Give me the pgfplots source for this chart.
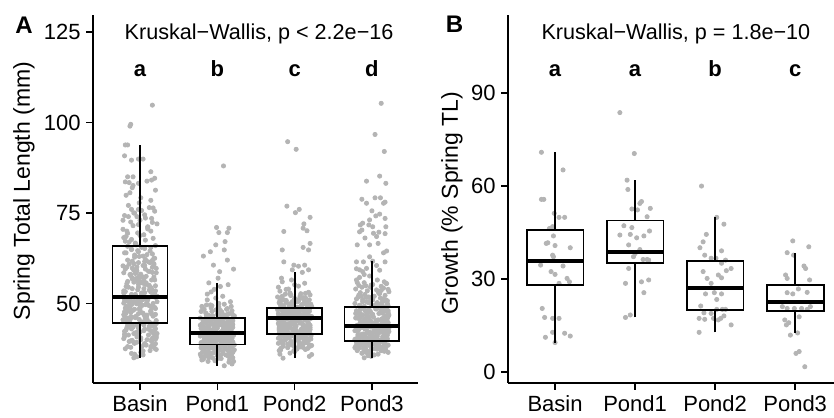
\documentclass[border=0pt]{standalone}
\usepackage{fontspec}
\setmainfont{Liberation Sans}
\usepackage{pgfplots}
\pgfplotsset{compat=1.18}
\definecolor{ptc}{RGB}{180,180,180}
\pgfplotsset{
  panel/.style={
    scale only axis, anchor=south west, height=184pt,
    axis x line*=bottom, axis y line*=left,
    axis line style={-, line width=0.8pt, black},
    tick style={black, line width=0.8pt},
    major tick length=3.5pt, tick align=outside,
    xtick={1,2,3,4}, xticklabels={Basin,Pond1,Pond2,Pond3},
    tick label style={font=\fontsize{11}{13}\selectfont, black},
    yticklabel style={inner xsep=2.5pt},
    xticklabel style={inner ysep=2.5pt, text height=8pt, text depth=0pt},
    /pgf/number format/assume math mode=true,
    clip=false, clip mode=individual,
  },
  myPts/.style={only marks, mark=*, mark size=1.05pt, color=ptc, mark options={solid, draw=ptc, fill=ptc}},
  myBox/.style={draw=black, line width=0.9pt, solid, mark=none, line join=miter},
  myMed/.style={draw=black, line width=2pt, solid, mark=none},
}
\begin{document}
\begin{tikzpicture}
\useasboundingbox (0pt,0pt) rectangle (417pt,208.5pt);
% ---------------- Panel A ----------------
\begin{axis}[panel, at={(46.5pt,17pt)}, width=162.5pt,
  xmin=0.392, xmax=4.596, ymin=28.04, ymax=129.7,
  ytick={50,75,100,125}]
% Basin
\addplot[myPts] coordinates {
(0.92,35.0) (0.96,35.3) (1.04,35.8) (0.89,36.2) (1.01,36.5) (1.04,36.9) (1.21,37.3) (1.19,37.6) (0.88,37.9) (1.15,38.3)
(1.05,38.6) (1.06,38.9) (0.92,39.2) (1.15,39.5) (0.90,39.8) (1.20,40.1) (0.79,40.3) (1.17,40.6) (0.96,40.8) (1.21,41.0)
(0.85,41.3) (1.19,41.5) (1.22,41.7) (0.94,41.9) (1.00,42.1) (0.80,42.3) (1.14,42.5) (0.82,42.7) (1.11,42.9) (1.20,43.0)
(0.98,43.2) (1.19,43.4) (0.91,43.5) (1.12,43.7) (0.85,43.8) (0.96,44.0) (1.05,44.1) (1.16,44.2) (0.87,44.3) (1.17,44.4)
(1.21,44.5) (1.05,44.6) (1.13,44.7) (0.93,36.0) (1.14,38.0) (1.01,40.0) (0.96,42.0)
(0.83,44.8) (1.09,45.0) (1.08,45.1) (1.21,45.3) (0.87,45.4) (0.99,45.6) (0.81,45.7) (1.07,45.9) (0.84,46.0) (0.90,46.2)
(0.88,46.3) (0.80,46.5) (1.06,46.6) (1.09,46.8) (1.19,46.9) (1.15,47.1) (0.98,47.2) (0.82,47.4) (1.02,47.5) (0.80,47.7)
(1.14,47.8) (0.88,48.0) (0.85,48.1) (0.89,48.3) (0.93,48.4) (1.20,48.6) (0.81,48.7) (0.83,48.9) (1.15,49.0) (1.14,49.2)
(0.83,49.3) (1.11,49.5) (1.00,49.6) (0.90,49.8) (0.96,49.9) (0.79,50.1) (1.09,50.2) (0.86,50.4) (0.95,50.5) (1.01,50.7)
(0.83,50.8) (0.80,51.0) (1.04,51.1) (1.06,51.3) (0.98,51.4) (0.88,51.6) (1.20,51.7)
(1.17,52.0) (1.02,52.3) (1.19,52.6) (0.79,52.9) (1.14,53.2) (1.20,53.5) (0.97,53.8) (0.90,54.1) (1.14,54.4) (0.82,54.7)
(1.11,55.0) (1.07,55.3) (1.04,55.6) (0.92,55.9) (0.97,56.2) (1.05,56.5) (0.90,56.8) (0.99,57.1) (1.03,57.4) (0.99,57.7)
(0.88,58.0) (0.94,58.3) (1.16,58.6) (1.12,58.9) (0.92,59.2) (1.07,59.5) (0.90,59.8) (0.83,60.1) (0.78,60.4) (1.18,60.7)
(1.18,61.0) (0.98,61.3) (1.06,61.6) (1.16,61.9) (1.07,62.2) (1.19,62.5) (0.93,62.8) (1.04,63.1) (0.93,63.4) (1.16,63.7)
(0.82,64.0) (0.98,64.3) (0.97,64.6) (0.89,64.9) (1.06,65.2) (1.14,65.5) (0.84,65.8)
(0.95,66.2) (0.94,66.7) (0.81,67.2) (0.89,67.7) (0.79,68.2) (1.00,68.8) (0.84,69.4) (0.83,70.0) (1.10,70.6)
(1.10,71.2) (0.98,71.8) (1.16,72.4) (0.78,73.0) (1.07,73.6) (0.80,74.3) (0.92,75.0) (1.02,75.7) (1.17,76.4) (0.85,77.1)
(0.99,77.8) (1.14,78.5) (1.01,79.2) (0.82,79.9) (0.87,80.6) (1.20,81.3) (0.90,82.0) (0.91,82.6) (0.89,76.0) (0.96,74.0)
(1.16,104.8) (0.88,99.5) (0.87,99.0) (0.81,93.8) (0.84,93.8) (0.80,90.8) (0.89,89.6) (0.98,89.9) (1.04,89.9) (1.14,86.4)
(0.84,85.0) (0.91,85.0) (1.19,84.6) (0.81,83.6) (0.86,83.4) (0.98,83.2) (1.09,83.8) (1.15,84.1)
(1.13,37.0) (0.81,37.5) (1.02,38.0) (1.18,38.5) (0.93,39.0) (0.86,39.5) (1.09,40.0) (1.21,40.5) (0.97,41.0) (0.80,41.5)
(1.16,42.0) (1.05,42.5) (0.89,43.0) (1.19,43.5) (0.84,44.0) (1.00,44.5) (1.11,45.0) (0.78,45.5) (1.07,46.0) (0.95,46.5)
(1.20,47.0) (0.88,47.5) (1.14,48.0) (0.99,48.5) (0.82,49.0) (1.03,49.5) (1.17,50.0) (0.91,50.5) (1.10,51.0) (0.85,51.5)
(1.22,52.0) (0.94,52.5) (1.06,53.0) (0.79,53.5) (1.15,54.0) (0.98,54.5) (1.12,55.0) (0.83,55.5) (1.01,56.0) (1.19,56.5)
(0.90,57.0) (1.08,57.5) (0.87,58.0) (1.21,58.5) (0.96,59.0) (0.81,59.5) (1.16,60.0) (1.04,60.5) (0.92,61.0) (1.11,61.5)
(0.84,62.0) (1.18,62.5) (0.99,63.0) (1.09,63.5) (0.80,64.0) (1.13,64.5) (0.89,65.0) (1.02,65.5) (1.20,66.0) (0.94,66.5)
(0.86,67.0) (1.07,67.5) (1.17,68.0) (0.82,68.5) (1.05,69.0) (0.97,69.5) (1.14,70.0) (0.78,70.5) (1.10,71.0) (0.91,71.5)
(1.22,72.0) (0.88,72.5) (1.00,73.0) (1.15,73.5) (0.85,74.0) (1.06,74.5) (0.93,75.0) (1.19,75.5) (0.98,76.0) (1.12,76.5)
(0.84,38.1) (1.08,38.5) (1.20,38.9) (0.96,39.3) (0.88,39.7) (1.15,40.1) (1.01,40.5) (0.80,40.9) (1.11,41.3) (0.92,41.7)
(1.18,42.1) (0.99,42.5) (1.06,42.9) (0.83,43.3) (1.13,43.7) (0.90,44.1) (1.21,44.5) (1.03,44.9) (0.86,45.3) (1.09,45.7)
(0.94,46.1) (1.17,46.5) (0.79,46.9) (1.04,47.3) (1.14,47.7) (0.91,48.1) (1.00,48.5) (1.19,48.9) (0.87,49.3) (1.07,49.7)
(0.97,50.1) (1.22,50.5) (0.82,50.9) (1.10,51.3) (0.93,51.7) (1.16,52.1) (0.89,52.5) (1.02,52.9) (0.81,53.3) (1.12,53.7)
(1.05,54.1) (0.85,54.5) (1.20,54.9) (0.98,55.3) (1.08,55.7) (0.84,56.1) (1.15,56.5) (0.95,56.9) (1.18,57.3) (0.88,57.7)
(1.01,58.1) (0.79,58.5) (1.11,58.9) (0.92,59.3) (1.21,59.7) (0.96,60.1) (1.06,60.5) (0.86,60.9) (1.13,61.3) (0.90,61.7)
};
% Pond1
\addplot[myPts] coordinates {
(2.09,32.8) (2.19,33.3) (2.15,33.8) (1.98,34.2) (1.82,34.6) (2.02,34.9) (1.80,35.2) (2.14,35.5) (1.88,35.7) (1.85,35.9)
(1.89,36.1) (1.93,36.3) (2.20,36.5) (1.81,36.7) (1.83,36.8) (2.15,37.0) (2.14,37.1) (1.83,37.2) (2.11,37.4) (2.00,37.5)
(1.90,37.6) (1.96,37.7) (1.79,37.8) (2.09,37.9) (1.86,38.0) (1.95,38.1) (2.01,38.2) (1.83,38.3) (1.80,38.4) (2.04,38.5)
(2.06,38.6) (1.98,38.7) (1.88,34.0) (2.20,35.0) (2.17,36.0) (2.02,37.0) (2.19,38.0)
(1.79,38.8) (2.14,38.9) (2.20,39.0) (1.97,39.1) (1.90,39.2) (2.14,39.3) (1.82,39.4) (2.11,39.5) (2.07,39.5) (2.04,39.6)
(1.92,39.7) (1.97,39.8) (2.05,39.9) (1.90,40.0) (1.99,40.0) (2.03,40.1) (1.99,40.2) (1.88,40.3) (1.94,40.4) (2.16,40.5)
(2.12,40.6) (1.92,40.6) (2.07,40.7) (1.90,40.8) (1.83,40.9) (1.78,41.0) (2.18,41.1) (2.18,41.1) (1.98,41.2) (2.06,41.3)
(2.16,41.4) (2.07,41.5) (2.19,41.6) (1.93,41.6) (2.04,41.7) (1.93,41.8) (2.16,41.8)
(1.82,41.9) (1.98,42.0) (1.97,42.1) (1.89,42.2) (2.06,42.3) (2.14,42.4) (1.84,42.5) (1.95,42.6) (1.94,42.8) (1.81,42.9)
(1.89,43.0) (1.79,43.1) (2.00,43.2) (1.84,43.3) (1.83,43.4) (2.10,43.5) (2.10,43.6) (1.98,43.7) (2.16,43.8) (1.78,44.0)
(2.07,44.1) (1.80,44.2) (1.92,44.3) (2.02,44.4) (2.17,44.5) (1.85,44.6) (1.99,44.7) (2.14,44.8) (2.01,44.9) (1.82,45.0)
(1.87,45.1) (2.20,45.2) (1.90,45.3) (1.91,45.4) (1.89,45.5) (1.96,45.6) (2.18,45.7) (2.09,45.9)
(2.01,46.0) (2.06,46.3) (1.94,46.6) (2.12,46.9) (2.19,47.2) (2.04,47.5) (1.79,47.8) (2.04,48.1) (1.83,48.4) (1.92,48.8)
(1.80,49.2) (1.91,49.6) (2.02,50.0) (2.17,50.5) (1.87,51.0) (1.98,51.5) (2.07,52.0) (1.87,52.6) (1.92,53.2) (1.96,53.9)
(2.04,54.7) (1.89,55.7) (2.01,57.0) (2.14,55.2) (2.21,59.5)
(2.03,58.8) (1.95,60.6) (2.13,62.0) (1.82,63.1) (1.91,64.3) (2.09,64.8) (1.98,66.2) (2.10,67.1) (2.02,69.6) (2.13,69.6)
(1.99,71.0) (2.15,70.8) (2.08,88.0)
(2.21,34.0) (1.97,34.2) (1.80,34.4) (2.16,34.6) (2.05,34.8) (1.89,35.0) (2.19,35.2) (1.84,35.4) (2.00,35.6) (2.11,35.8)
(1.78,36.0) (2.07,36.2) (1.95,36.4) (2.20,36.6) (1.88,36.8) (2.14,37.0) (1.99,37.2) (1.82,37.4) (2.03,37.6) (2.17,37.8)
(1.91,38.0) (2.10,38.2) (1.85,38.4) (2.22,38.6) (1.94,38.8) (2.06,39.0) (1.79,39.2) (2.15,39.4) (1.98,39.6) (2.12,39.8)
(1.83,40.0) (2.01,40.2) (2.19,40.4) (1.90,40.6) (2.08,40.8) (1.87,41.0) (2.21,41.2) (1.96,41.4) (1.81,41.6) (2.16,41.8)
(2.04,42.0) (1.92,42.2) (2.11,42.4) (1.84,42.6) (2.18,42.8) (1.99,43.0) (2.09,43.2) (1.80,43.4) (2.13,43.6) (1.89,43.8)
(2.02,44.0) (2.20,44.2) (1.94,44.4) (1.86,44.6) (2.07,44.8) (2.17,45.0) (1.82,45.2) (2.05,45.4) (1.97,45.6) (2.14,45.8)
(1.78,46.0) (2.10,46.2) (1.91,46.4) (2.22,46.6) (1.88,46.8) (2.00,47.0) (2.15,47.2) (1.85,47.4) (2.06,47.6) (1.93,47.8)
(2.19,48.0) (1.98,48.2) (2.12,48.4) (2.13,48.6) (1.81,48.8) (2.02,49.0) (2.18,49.2) (1.93,49.4) (1.86,49.6) (2.09,49.8)
(1.94,35.0) (2.17,35.2) (1.79,35.4) (2.04,35.6) (2.14,35.8) (1.91,36.0) (2.00,36.2) (2.19,36.4) (1.87,36.6) (2.07,36.8)
(1.97,37.0) (2.22,37.2) (1.82,37.4) (2.10,37.6) (1.93,37.8) (2.16,38.0) (1.89,38.2) (2.02,38.4) (1.81,38.6) (2.12,38.8)
(2.05,39.0) (1.85,39.2) (2.20,39.4) (1.98,39.6) (2.08,39.8) (1.84,40.0) (2.15,40.2) (1.95,40.4) (2.18,40.6) (1.88,40.8)
(2.01,41.0) (1.79,41.2) (2.11,41.4) (1.92,41.6) (2.21,41.8) (1.96,42.0) (2.06,42.2) (1.86,42.4) (2.13,42.6) (1.90,42.8)
(1.84,43.0) (2.08,43.2) (2.20,43.4) (1.96,43.6) (1.88,43.8) (2.15,44.0) (2.01,44.2) (1.80,44.4) (2.11,44.6) (1.92,44.8)
(2.18,45.0) (1.99,45.2) (2.06,45.4) (1.83,45.6) (2.13,45.8) (1.90,46.0) (2.21,46.2) (2.03,46.4) (1.86,46.6) (2.09,46.8)
};
% Pond2
\addplot[myPts] coordinates {
(2.85,34.9) (3.19,35.4) (3.22,35.9) (2.94,36.3) (3.00,36.7) (2.80,37.0) (3.14,37.3) (2.82,37.6) (3.11,37.9) (3.20,38.2)
(2.98,38.4) (3.19,38.6) (2.91,38.8) (3.12,39.0) (2.85,39.2) (2.96,39.4) (3.05,39.6) (3.16,39.8) (2.87,39.9) (3.17,40.1)
(3.21,40.2) (3.05,40.4) (3.13,40.5) (2.93,40.6) (3.14,40.8) (3.01,40.9) (2.96,41.0) (2.83,41.1) (3.09,41.2) (3.08,41.3)
(3.21,41.4) (2.87,41.5) (2.99,41.6) (2.81,36.0) (3.07,38.0) (2.84,39.5) (2.90,40.7)
(2.88,41.7) (2.80,41.8) (3.06,41.9) (3.09,42.0) (3.19,42.2) (3.15,42.3) (2.98,42.4) (2.82,42.5) (3.02,42.6) (2.80,42.7)
(3.14,42.8) (2.88,42.9) (2.85,43.0) (2.89,43.1) (2.93,43.3) (3.20,43.4) (2.81,43.5) (2.83,43.6) (3.15,43.7) (3.14,43.8)
(2.83,43.9) (3.11,44.0) (3.00,44.1) (2.90,44.3) (2.96,44.4) (2.79,44.5) (3.09,44.6) (2.86,44.7) (2.95,44.8) (3.01,44.9)
(2.83,45.0) (2.80,45.1) (3.04,45.3) (3.06,45.4) (2.98,45.5) (2.88,45.7) (3.20,45.9)
(3.17,46.0) (3.02,46.1) (3.19,46.2) (2.79,46.3) (3.14,46.3) (3.20,46.4) (2.97,46.5) (2.90,46.6) (3.14,46.7) (2.82,46.8)
(3.11,46.8) (3.07,46.9) (3.04,47.0) (2.92,47.1) (2.97,47.2) (3.05,47.3) (2.90,47.3) (2.99,47.4) (3.03,47.5) (2.99,47.6)
(2.88,47.7) (2.94,47.8) (3.16,47.8) (3.12,47.9) (2.92,48.0) (3.07,48.1) (2.90,48.2) (2.83,48.2) (2.78,48.3) (3.18,48.4)
(3.18,48.5) (2.98,48.5) (3.06,48.6) (3.16,48.7) (3.07,48.7) (3.19,48.8) (2.93,48.8)
(3.04,49.0) (2.93,49.3) (3.16,49.6) (2.82,49.9) (2.98,50.2) (2.97,50.5) (2.89,50.8) (3.06,51.2) (3.14,51.6) (2.84,52.0)
(2.95,52.4) (2.94,52.9) (2.81,53.4) (2.89,53.9) (2.79,54.5) (3.00,55.2) (2.84,56.0) (2.83,57.0) (3.10,58.6)
(3.12,50.0) (2.86,51.0) (3.08,52.7) (3.18,53.1) (2.92,54.0) (3.13,55.6) (3.05,54.8) (2.96,56.5)
(3.20,66.6) (3.18,64.8) (3.11,65.5) (2.84,64.8) (2.86,61.5) (2.99,60.6) (3.05,60.3) (3.13,60.6) (3.18,59.3) (2.97,59.3)
(2.86,69.9) (3.16,70.1) (3.11,70.8) (3.12,72.0) (3.20,73.8) (3.01,75.1) (3.06,76.0) (2.90,76.9) (3.02,92.6) (2.91,94.7)
(2.99,37.0) (2.82,37.2) (3.03,37.4) (3.17,37.6) (2.91,37.8) (3.10,38.0) (2.85,38.2) (3.22,38.4) (2.94,38.6) (3.06,38.8)
(2.79,39.0) (3.15,39.2) (2.98,39.4) (3.12,39.6) (2.83,39.8) (3.01,40.0) (3.19,40.2) (2.90,40.4) (3.08,40.6) (2.87,40.8)
(3.21,41.0) (2.96,41.2) (2.81,41.4) (3.16,41.6) (3.04,41.8) (2.92,42.0) (3.11,42.2) (2.84,42.4) (3.18,42.6) (2.99,42.8)
(3.09,43.0) (2.80,43.2) (3.13,43.4) (2.89,43.6) (3.02,43.8) (3.20,44.0) (2.94,44.2) (2.86,44.4) (3.07,44.6) (3.17,44.8)
(2.82,45.0) (3.05,45.2) (2.97,45.4) (3.14,45.6) (2.78,45.8) (3.10,46.0) (2.91,46.2) (3.22,46.4) (2.88,46.6) (3.00,46.8)
(3.15,47.0) (2.85,47.2) (3.06,47.4) (2.93,47.6) (3.19,47.8) (2.98,48.0) (3.12,48.2) (3.13,48.4) (2.81,48.6) (3.02,48.8)
(3.18,49.0) (2.93,49.2) (2.86,49.4) (3.09,49.6) (3.21,49.8) (2.97,50.0) (2.80,50.2) (3.16,50.4) (3.05,50.6) (2.89,50.8)
(3.19,51.0) (2.84,51.2) (3.00,51.4) (3.11,51.6) (2.78,51.8) (3.07,52.0) (2.95,52.2) (3.20,52.4) (2.88,52.6) (3.14,52.8)
(3.05,38.0) (2.85,38.2) (3.20,38.4) (2.98,38.7) (3.08,38.9) (2.84,39.1) (3.15,39.3) (2.95,39.5) (3.18,39.8) (2.88,40.0)
(3.01,40.2) (2.79,40.4) (3.11,40.6) (2.92,40.9) (3.21,41.1) (2.96,41.3) (3.06,41.5) (2.86,41.7) (3.13,42.0) (2.90,42.2)
(2.84,42.4) (3.08,42.6) (3.20,42.8) (2.96,43.1) (2.88,43.3) (3.15,43.5) (3.01,43.7) (2.80,43.9) (3.11,44.2) (2.92,44.4)
(3.18,44.6) (2.99,44.8) (3.06,45.0) (2.83,45.3) (3.13,45.5) (2.90,45.7) (3.21,45.9) (3.03,46.1) (2.86,46.4) (3.09,46.6)
(2.94,46.8) (3.17,47.0) (2.79,47.2) (3.04,47.5) (3.14,47.7) (2.91,47.9) (3.00,48.1) (3.19,48.3) (2.87,48.6) (3.07,48.8)
(2.97,49.0) (3.22,49.2) (2.82,49.4) (3.10,49.7) (2.93,49.9) (3.16,50.1) (2.89,50.3) (3.02,50.5) (2.81,50.8) (3.12,51.0)
};
% Pond3
\addplot[myPts] coordinates {
(3.90,35.0) (3.99,35.4) (4.03,35.8) (3.99,36.1) (3.88,36.4) (3.94,36.6) (4.16,36.8) (4.12,37.0) (3.92,37.2) (4.07,37.4)
(3.90,37.5) (3.83,37.7) (3.78,37.8) (4.18,38.0) (4.18,38.1) (3.98,38.2) (4.06,38.3) (4.16,38.4) (4.07,38.5) (4.19,38.6)
(3.93,38.7) (4.04,38.8) (3.93,38.9) (4.16,39.0) (3.82,39.1) (3.98,39.2) (3.97,39.3) (3.89,39.4) (4.06,39.5) (4.14,39.6)
(3.84,39.7) (3.95,35.6) (3.94,36.3) (3.81,37.1) (3.89,37.6) (3.79,38.2) (4.00,38.7) (3.84,39.2) (3.83,39.5) (4.10,39.6)
(4.10,39.8) (3.98,39.9) (4.16,40.0) (3.78,40.1) (4.07,40.2) (3.80,40.3) (3.92,40.4) (4.02,40.5) (4.17,40.6) (3.85,40.7)
(3.99,40.8) (4.14,40.9) (4.01,41.0) (3.82,41.1) (3.87,41.2) (4.20,41.3) (3.90,41.4) (3.91,41.5) (3.89,41.6) (3.96,41.7)
(4.18,41.8) (4.09,41.9) (4.01,42.0) (4.06,42.1) (3.94,42.2) (4.12,42.3) (4.19,42.4) (4.04,42.5) (3.79,42.6) (4.04,42.7)
(3.83,42.8) (3.92,42.9) (3.80,43.0) (3.91,43.1) (4.02,43.2) (4.17,43.3) (3.87,43.4) (3.98,43.5) (4.07,43.6) (3.87,43.7)
(3.92,43.9) (3.96,44.0) (4.04,44.2) (3.89,44.3) (4.01,44.4) (4.04,44.6) (4.21,44.7) (4.19,44.8) (3.88,44.9) (4.15,45.1)
(4.05,45.2) (4.06,45.3) (3.92,45.5) (4.15,45.6) (3.90,45.7) (4.20,45.9) (3.79,46.0) (4.17,46.1) (3.96,46.2) (4.21,46.4)
(3.85,46.5) (4.19,46.6) (4.22,46.8) (3.94,46.9) (4.00,47.0) (3.80,47.2) (4.14,47.3) (3.82,47.4) (4.11,47.5) (4.20,47.7)
(3.98,47.8) (4.19,47.9) (3.91,48.1) (4.12,48.2) (3.85,48.3) (3.96,48.5) (4.05,48.6) (4.16,48.7) (3.87,48.9) (4.17,49.1)
(4.21,49.3) (4.05,49.7) (4.13,50.1) (3.93,50.5) (4.14,50.9) (4.01,51.3) (3.96,51.8) (3.83,52.3) (4.09,52.8) (4.08,53.3)
(4.21,53.9) (3.87,54.5) (3.99,55.1) (3.81,55.8) (4.07,56.5) (3.84,57.2) (3.90,58.0) (3.88,58.8) (3.80,59.6) (4.06,60.5) (4.01,61.7)
(3.95,50.3) (4.18,51.0) (3.86,52.0) (4.12,53.6) (3.92,54.9) (4.16,56.0) (3.97,57.6) (4.10,59.2)
(3.84,69.8) (4.02,69.4) (3.91,68.1) (4.06,68.5) (3.81,66.2) (3.97,66.2) (4.08,66.6) (4.15,64.0) (4.19,64.5) (3.80,61.5)
(3.89,61.5) (3.97,62.9) (4.17,61.5) (3.84,59.3) (3.93,59.7) (3.80,56.5) (4.18,55.6) (3.85,71.7) (3.88,72.2) (3.97,73.1)
(4.05,74.2) (4.10,74.7) (4.17,73.5) (4.01,71.2) (3.96,71.7) (4.18,71.2) (3.87,70.3) (4.09,69.7) (4.17,69.3) (4.00,75.6)
(3.93,77.7) (4.15,77.7) (4.17,78.0) (3.87,78.8) (4.04,79.2) (4.11,79.2) (3.93,83.8) (4.10,85.2) (4.18,83.2) (4.16,92.0)
(4.04,96.7) (4.12,105.3)
(4.08,36.00) (3.87,36.25) (4.21,36.50) (3.96,36.75) (3.81,37.00) (4.16,37.25) (4.04,37.50) (3.92,37.75) (4.11,38.00) (3.84,38.25)
(4.18,38.50) (3.99,38.75) (4.09,39.00) (3.80,39.25) (4.13,39.50) (3.89,39.75) (4.02,40.00) (4.20,40.25) (3.94,40.50) (3.86,40.75)
(4.07,41.00) (4.17,41.25) (3.82,41.50) (4.05,41.75) (3.97,42.00) (4.14,42.25) (3.78,42.50) (4.10,42.75) (3.91,43.00) (4.22,43.25)
(3.88,43.50) (4.00,43.75) (4.15,44.00) (3.85,44.25) (4.06,44.50) (3.93,44.75) (4.19,45.00) (3.98,45.25) (4.12,45.50) (4.13,45.75)
(3.81,46.00) (4.02,46.25) (4.18,46.50) (3.93,46.75) (3.86,47.00) (4.09,47.25) (4.21,47.50) (3.97,47.75) (3.80,48.00) (4.16,48.25)
(4.05,48.50) (3.89,48.75) (4.19,49.00) (3.84,49.25) (4.00,49.50) (4.11,49.75) (3.78,50.00) (4.07,50.25) (3.95,50.50) (4.20,50.75)
(3.88,51.00) (4.14,51.25) (3.99,51.50) (3.82,51.75) (4.03,52.00) (4.17,52.25) (3.91,52.50) (4.10,52.75) (3.85,53.00) (4.22,53.25)
(3.94,53.50) (4.06,53.75) (3.79,54.00) (4.15,54.25) (3.98,54.50) (4.12,54.75) (3.83,55.00) (4.01,55.25) (4.19,55.50) (3.90,55.75)
(4.18,37.00) (3.99,37.25) (4.06,37.50) (3.83,37.75) (4.13,38.00) (3.90,38.25) (4.21,38.50) (4.03,38.75) (3.86,39.00) (4.09,39.25)
(3.94,39.50) (4.17,39.75) (3.79,40.00) (4.04,40.25) (4.14,40.50) (3.91,40.75) (4.00,41.00) (4.19,41.25) (3.87,41.50) (4.07,41.75)
(3.97,42.00) (4.22,42.25) (3.82,42.50) (4.10,42.75) (3.93,43.00) (4.16,43.25) (3.89,43.50) (4.02,43.75) (3.81,44.00) (4.12,44.25)
(4.05,44.50) (3.85,44.75) (4.20,45.00) (3.98,45.25) (4.08,45.50) (3.84,45.75) (4.15,46.00) (3.95,46.25) (4.18,46.50) (3.88,46.75)
(4.01,47.00) (3.79,47.25) (4.11,47.50) (3.92,47.75) (4.21,48.00) (3.96,48.25) (4.06,48.50) (3.86,48.75) (4.13,49.00) (3.90,49.25)
(3.84,49.50) (4.08,49.75) (4.20,50.00) (3.96,50.25) (3.88,50.50) (4.15,50.75) (4.01,51.00) (3.80,51.25) (4.11,51.50) (3.92,51.75)
};
% boxes A
\addplot[myBox] coordinates {(1,44.7) (1.355,44.7) (1.355,65.9) (0.645,65.9) (0.645,44.7) (1,44.7)};
\addplot[myBox] coordinates {(1,35.0) (1,44.7)};
\addplot[myBox] coordinates {(1,65.9) (1,93.8)};
\addplot[myMed] coordinates {(0.645,51.9) (1.355,51.9)};
\addplot[myBox] coordinates {(2,38.7) (2.355,38.7) (2.355,45.9) (1.645,45.9) (1.645,38.7) (2,38.7)};
\addplot[myBox] coordinates {(2,32.8) (2,38.7)};
\addplot[myBox] coordinates {(2,45.9) (2,55.7)};
\addplot[myMed] coordinates {(1.645,41.8) (2.355,41.8)};
\addplot[myBox] coordinates {(3,41.6) (3.355,41.6) (3.355,48.8) (2.645,48.8) (2.645,41.6) (3,41.6)};
\addplot[myBox] coordinates {(3,34.9) (3,41.6)};
\addplot[myBox] coordinates {(3,48.8) (3,58.6)};
\addplot[myMed] coordinates {(2.645,45.9) (3.355,45.9)};
\addplot[myBox] coordinates {(4,39.7) (4.355,39.7) (4.355,49.1) (3.645,49.1) (3.645,39.7) (4,39.7)};
\addplot[myBox] coordinates {(4,35.0) (4,39.7)};
\addplot[myBox] coordinates {(4,49.1) (4,61.7)};
\addplot[myMed] coordinates {(3.645,43.8) (4.355,43.8)};
\node[anchor=base, font=\fontsize{10.8}{13}\selectfont] at (axis cs:2.54,123) {Kruskal−Wallis, p < 2.2e−16};
\node[anchor=base, font=\bfseries\fontsize{11}{13}\selectfont] at (axis cs:1,112.7) {a};
\node[anchor=base, font=\bfseries\fontsize{11}{13}\selectfont] at (axis cs:2,112.7) {b};
\node[anchor=base, font=\bfseries\fontsize{11}{13}\selectfont] at (axis cs:3,112.7) {c};
\node[anchor=base, font=\bfseries\fontsize{11}{13}\selectfont] at (axis cs:4,112.7) {d};
\end{axis}
% ---------------- Panel B ----------------
\begin{axis}[panel, at={(254pt,17pt)}, width=163pt,
  xmin=0.4125, xmax=4.485, ymin=-3.55, ymax=115.2,
  ytick={0,30,60,90}]
\addplot[myPts] coordinates {
(0.83,70.9) (1.10,65.2) (0.83,55.7) (0.86,55.7) (0.99,51.2) (1.05,49.9) (1.12,49.9) (0.93,46.3) (0.97,46.9) (0.98,43.9)
(0.89,41.5) (0.91,41.7) (1.00,40.8) (1.19,40.1) (0.97,37.7) (0.98,37.2) (1.10,34.2) (0.82,34.5) (0.95,32.4) (1.00,31.5)
(1.15,30.2) (1.18,29.1) (1.05,28.6) (0.84,20.5) (0.87,17.6) (0.97,17.3) (1.05,17.3) (0.97,12.8) (1.12,12.5) (1.19,11.6)
(0.88,11.2) (1.00,9.5)
};
\addplot[myPts] coordinates {
(1.81,83.7) (1.99,70.5) (1.90,61.9) (1.91,58.9) (2.06,54.4) (2.08,55.0) (1.96,52.6) (2.03,52.3) (2.19,52.8) (2.15,50.1)
(1.86,47.2) (1.96,46.6) (1.81,44.2) (1.94,44.4) (2.02,43.3) (2.11,43.9) (2.18,45.5) (1.92,41.0) (1.98,37.2) (2.10,36.3)
(2.15,36.3) (2.17,36.1) (1.92,33.4) (1.88,28.6) (2.08,29.1) (2.17,29.7) (2.11,25.6) (1.88,17.6) (1.94,18.4) (2.00,38.2)
(2.06,39.5)
};
\addplot[myPts] coordinates {
(2.83,60.0) (3.11,47.7) (2.89,44.4) (2.85,42.0) (2.81,40.1) (3.08,39.1) (2.87,37.7) (2.95,36.7) (3.01,36.7) (3.13,36.1)
(3.08,35.1) (3.20,33.4) (3.14,32.7) (2.85,32.4) (3.04,31.3) (3.08,30.4) (2.90,30.2) (2.95,28.6) (2.88,25.2) (2.99,25.6)
(3.08,25.2) (3.02,23.4) (2.82,21.3) (2.86,19.1) (2.95,18.9) (3.02,20.2) (3.09,20.2) (3.13,20.2) (2.80,17.3) (2.87,17.0)
(2.98,17.3) (3.04,16.8) (3.07,17.3) (3.11,18.1) (3.20,15.2) (2.80,12.8) (3.02,49.9)
};
\addplot[myPts] coordinates {
(3.97,42.3) (4.17,40.4) (3.90,38.5) (3.98,37.7) (4.11,34.2) (4.13,33.4) (3.88,31.3) (3.90,30.2) (4.18,29.7) (4.04,26.8)
(3.90,25.6) (3.97,25.2) (4.15,25.7) (3.84,21.1) (3.90,20.5) (3.99,20.5) (4.08,20.5) (4.15,20.2) (4.19,21.1) (3.87,16.8)
(3.92,15.9) (3.89,15.2) (4.05,17.8) (3.94,11.9) (4.03,12.6) (4.01,6.0) (4.05,6.6) (4.12,1.7)
};
% boxes B
\addplot[myBox] coordinates {(1,28.1) (1.355,28.1) (1.355,45.7) (0.645,45.7) (0.645,28.1) (1,28.1)};
\addplot[myBox] coordinates {(1,9.5) (1,28.1)};
\addplot[myBox] coordinates {(1,45.7) (1,70.9)};
\addplot[myMed] coordinates {(0.645,35.9) (1.355,35.9)};
\addplot[myBox] coordinates {(2,35.1) (2.355,35.1) (2.355,48.9) (1.645,48.9) (1.645,35.1) (2,35.1)};
\addplot[myBox] coordinates {(2,17.6) (2,35.1)};
\addplot[myBox] coordinates {(2,48.9) (2,61.9)};
\addplot[myMed] coordinates {(1.645,38.8) (2.355,38.8)};
\addplot[myBox] coordinates {(3,20.0) (3.355,20.0) (3.355,35.8) (2.645,35.8) (2.645,20.0) (3,20.0)};
\addplot[myBox] coordinates {(3,12.8) (3,20.0)};
\addplot[myBox] coordinates {(3,35.8) (3,49.9)};
\addplot[myMed] coordinates {(2.645,27.0) (3.355,27.0)};
\addplot[myBox] coordinates {(4,19.7) (4.355,19.7) (4.355,28.1) (3.645,28.1) (3.645,19.7) (4,19.7)};
\addplot[myBox] coordinates {(4,12.6) (4,19.7)};
\addplot[myBox] coordinates {(4,28.1) (4,38.5)};
\addplot[myMed] coordinates {(3.645,22.7) (4.355,22.7)};
\node[anchor=base, font=\fontsize{10.8}{13}\selectfont] at (axis cs:2.51,107.3) {Kruskal−Wallis, p = 1.8e−10};
\node[anchor=base, font=\bfseries\fontsize{11}{13}\selectfont] at (axis cs:1,95.3) {a};
\node[anchor=base, font=\bfseries\fontsize{11}{13}\selectfont] at (axis cs:2,95.3) {a};
\node[anchor=base, font=\bfseries\fontsize{11}{13}\selectfont] at (axis cs:3,95.3) {b};
\node[anchor=base, font=\bfseries\fontsize{11}{13}\selectfont] at (axis cs:4,95.3) {c};
\end{axis}
% labels
\node[rotate=90, inner sep=0pt, font=\fontsize{11.5}{13}\selectfont] at (12pt,113pt) {Spring Total Length (mm)};
\node[rotate=90, inner sep=0pt, font=\fontsize{11.5}{13}\selectfont] at (226pt,107pt) {Growth (\% Spring TL)};
\node[font=\bfseries\fontsize{12}{14}\selectfont, inner sep=0pt] at (12pt,196pt) {A};
\node[font=\bfseries\fontsize{12}{14}\selectfont, inner sep=0pt] at (227.25pt,196.5pt) {B};
\end{tikzpicture}
\end{document}
